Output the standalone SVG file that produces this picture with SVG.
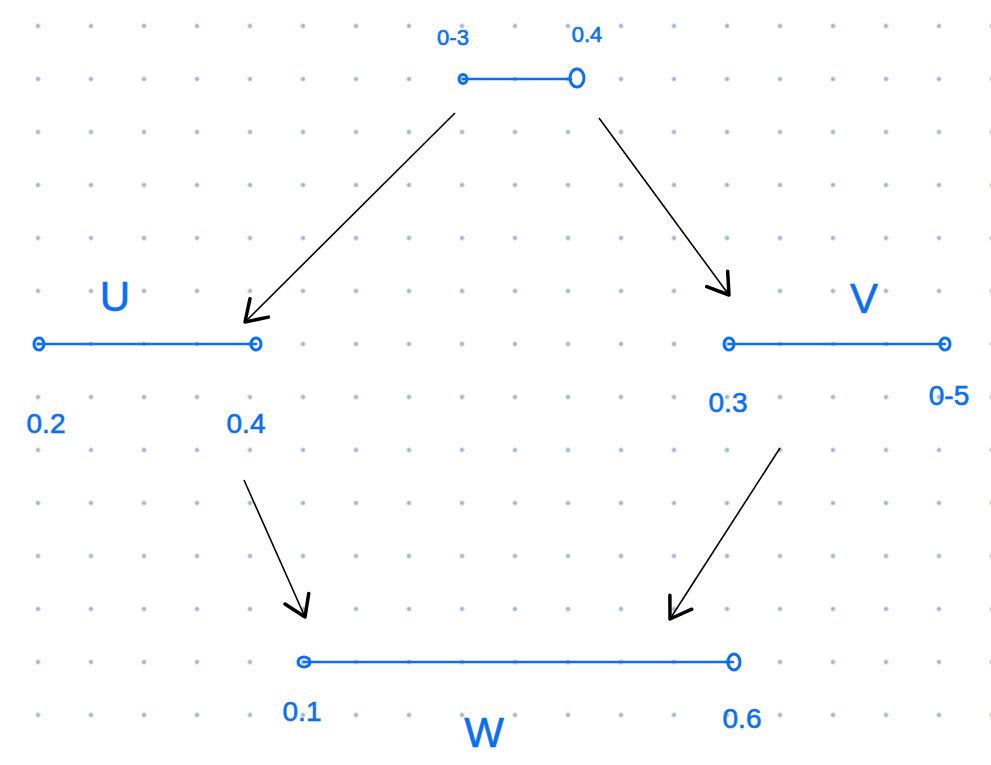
<svg xmlns="http://www.w3.org/2000/svg" width="991" height="765" viewBox="0 0 991 765">
  <style>
    .seg { stroke: #0b6ff2; stroke-width: 2.5; fill: none; stroke-linecap: round; }
    .end { stroke: #0b6ff2; stroke-width: 3; fill: none; }
    .lbl { fill: #0b6ff2; stroke: #0b6ff2; stroke-width: 0.6; font-family: "Liberation Sans", "DejaVu Sans", sans-serif; text-anchor: middle; }
    .val { font-size: 28px; }
    .name { font-size: 42px; }
    .arrow { stroke: #000; stroke-width: 1.6; fill: none; marker-end: url(#head); }
  </style>
  <defs>
    <pattern id="dots" patternUnits="userSpaceOnUse" x="11.5" y="-0.5" width="53" height="53">
      <circle cx="26.5" cy="26.5" r="2.2" fill="#a4b6d3"/>
    </pattern>
    <marker id="head" markerUnits="userSpaceOnUse" markerWidth="40" markerHeight="40" viewBox="-30 -20 40 40" refX="0" refY="0" orient="auto">
      <path d="M -20 -13 L 0 0 L -20 13" stroke="#000" stroke-width="3.5" fill="none" stroke-linecap="round" stroke-linejoin="round"/>
    </marker>
  </defs>
  <rect width="991" height="765" fill="#ffffff"/>
  <rect width="991" height="765" fill="url(#dots)"/>

  <g id="top">
    <line class="seg" x1="463" y1="79" x2="571" y2="79"/>
    <ellipse class="end" cx="463" cy="79" rx="4" ry="4.5"/>
    <ellipse class="end" cx="577" cy="78" rx="7" ry="9"/>
    <text class="lbl" x="453" y="45" font-size="22">0-3</text>
    <text class="lbl" x="587" y="42" font-size="22">0.4</text>
  </g>

  <g id="U">
    <line class="seg" x1="38" y1="344" x2="256" y2="344"/>
    <ellipse class="end" cx="39" cy="344" rx="5" ry="6"/>
    <ellipse class="end" cx="256" cy="344" rx="5" ry="6"/>
    <text class="lbl name" x="115" y="311">U</text>
    <text class="lbl val" x="46" y="433">0.2</text>
    <text class="lbl val" x="246" y="433">0.4</text>
  </g>

  <g id="V">
    <line class="seg" x1="729" y1="344" x2="945" y2="344"/>
    <ellipse class="end" cx="729" cy="344" rx="5" ry="6"/>
    <ellipse class="end" cx="945" cy="344" rx="5" ry="6"/>
    <text class="lbl name" x="864" y="313">V</text>
    <text class="lbl val" x="728" y="412">0.3</text>
    <text class="lbl val" x="949" y="405">0-5</text>
  </g>

  <g id="W">
    <line class="seg" x1="304" y1="662" x2="733" y2="662"/>
    <ellipse class="end" cx="304" cy="662" rx="6" ry="5"/>
    <ellipse class="end" cx="734" cy="662" rx="6" ry="8"/>
    <text class="lbl name" x="484" y="747">W</text>
    <text class="lbl val" x="302" y="721">0.1</text>
    <text class="lbl val" x="742" y="728">0.6</text>
  </g>

  <g id="connectors">
    <line class="arrow" x1="455" y1="113" x2="245" y2="322"/>
    <line class="arrow" x1="599" y1="118" x2="729" y2="295"/>
    <line class="arrow" x1="244" y1="480" x2="305" y2="617"/>
    <line class="arrow" x1="780" y1="448" x2="670" y2="619"/>
  </g>
</svg>
